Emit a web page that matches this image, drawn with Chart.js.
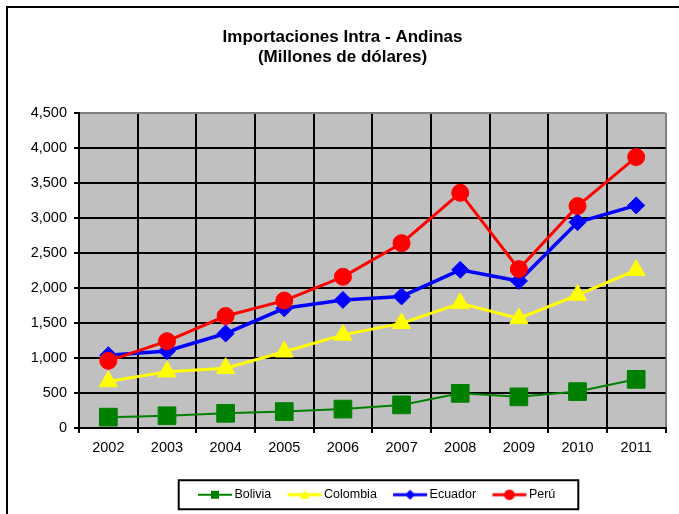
<!DOCTYPE html>
<html><head><meta charset="utf-8">
<script src="https://cdn.jsdelivr.net/npm/chart.js@4"></script>
<style>html,body{margin:0;padding:0;background:#fff;overflow:hidden}canvas{display:block}</style>
</head><body>
<canvas id="c" width="679" height="514"></canvas>
<script>
// ---- data ----
const years = ['2002','2003','2004','2005','2006','2007','2008','2009','2010','2011'];
const bolivia  = [155, 175, 210, 235, 270, 330, 495, 445, 520, 695];
const colombia = [665, 805, 855, 1090, 1330, 1495, 1780, 1565, 1900, 2255];
const ecuador  = [1040, 1100, 1350, 1710, 1830, 1880, 2260, 2100, 2940, 3180];
const peru     = [960, 1240, 1600, 1820, 2160, 2640, 3360, 2270, 3170, 3870];
const yTicks   = [0, 500, 1000, 1500, 2000, 2500, 3000, 3500, 4000, 4500];
const seriesNames = ['Bolivia', 'Colombia', 'Ecuador', 'Perú'];
const titleLines = ['Importaciones Intra - Andinas', '(Millones de dólares)'];

const FONT = "'Liberation Sans', Arial, sans-serif";

function legendIcon(color, lw, marker) {
  const c = document.createElement('canvas');
  c.width = 36; c.height = 14;
  const g = c.getContext('2d');
  g.strokeStyle = color; g.fillStyle = color; g.lineWidth = lw;
  g.beginPath(); g.moveTo(1, 7); g.lineTo(35, 7); g.stroke();
  g.beginPath();
  if (marker === 'rect') { g.rect(14, 3, 8, 8); }
  else if (marker === 'triangle') { g.moveTo(18, 2); g.lineTo(23, 11); g.lineTo(13, 11); g.closePath(); }
  else if (marker === 'rectRot') { g.moveTo(18, 2); g.lineTo(23, 7); g.lineTo(18, 12); g.lineTo(13, 7); g.closePath(); }
  else { g.arc(18, 7, 5.3, 0, Math.PI * 2); }
  g.fill();
  return c;
}

const frame = {
  id: 'frame',
  afterLayout(chart) {
    const lg = chart.legend;
    if (lg) {
      const dx = 45;
      lg.left += dx; lg.right += dx;
      const h = lg.bottom - lg.top;
      lg.top = 468.5; lg.bottom = 468.5 + h;
    }
    const t = chart.titleBlock;
    if (t) { t.left += 9; t.right += 9; }
  },
  beforeDraw(chart) {
    const ctx = chart.ctx, a = chart.chartArea;
    ctx.save();
    ctx.fillStyle = '#ffffff';
    ctx.fillRect(0, 0, chart.width, chart.height);
    ctx.strokeStyle = '#000'; ctx.lineWidth = 2;
    ctx.strokeRect(7, 7, chart.width + 40, chart.height + 40);
    ctx.fillStyle = '#C0C0C0';
    ctx.fillRect(a.left, a.top, a.right - a.left, a.bottom - a.top);
    ctx.restore();
  },
  afterDraw(chart) {
    const lg = chart.legend;
    if (!lg || !lg.legendHitBoxes || !lg.legendHitBoxes.length) return;
    const hb = lg.legendHitBoxes;
    const first = hb[0], last = hb[hb.length - 1];
    const cy = first.top + first.height / 2;
    const ctx = chart.ctx;
    ctx.save();
    ctx.strokeStyle = '#000'; ctx.lineWidth = 2;
    const l = first.left - 23, r = last.left + last.width + 23;
    ctx.strokeRect(l, cy - 14.5, r - l, 29);
    ctx.restore();
  }
};

const icons = [
  legendIcon('#008000', 2, 'rect'),
  legendIcon('#FFFF00', 3, 'triangle'),
  legendIcon('#0000FF', 3, 'rectRot'),
  legendIcon('#FF0000', 3, 'circle')
];

new Chart(document.getElementById('c'), {
  type: 'line',
  data: {
    labels: years,
    datasets: [
      { label: seriesNames[0], data: bolivia, borderColor: '#008000', backgroundColor: '#008000',
        borderWidth: 2, pointStyle: 'rect', pointRadius: 12.5, pointBorderWidth: 1, order: 4 },
      { label: seriesNames[1], data: colombia, borderColor: '#FFFF00', backgroundColor: '#FFFF00',
        borderWidth: 3, pointStyle: 'triangle', pointRadius: 10.5, pointBorderWidth: 1, order: 3 },
      { label: seriesNames[2], data: ecuador, borderColor: '#0000FF', backgroundColor: '#0000FF',
        borderWidth: 3.5, pointStyle: 'rectRot', pointRadius: 8.5, pointBorderWidth: 1, order: 2 },
      { label: seriesNames[3], data: peru, borderColor: '#FF0000', backgroundColor: '#FF0000',
        borderWidth: 3, pointStyle: 'circle', pointRadius: 8.5, pointBorderWidth: 1, order: 1 }
    ]
  },
  options: {
    responsive: false,
    devicePixelRatio: 1,
    animation: false,
    layout: { padding: { left: 0, right: 12, top: 0, bottom: 0 } },
    plugins: {
      tooltip: { enabled: false },
      title: {
        display: true,
        text: titleLines,
        color: '#000',
        font: { family: FONT, size: 17, weight: 'bold', lineHeight: 1.2 },
        padding: { top: 27, bottom: 45.2 }
      },
      legend: {
        position: 'bottom',
        labels: {
          usePointStyle: true,
          pointStyleWidth: 26.5,
          padding: 20,
          color: '#000',
          font: { family: FONT, size: 12.5 },
          generateLabels(chart) {
            return chart.data.datasets.map((ds, i) => ({
              text: ds.label, pointStyle: icons[i], datasetIndex: i,
              fillStyle: ds.borderColor, strokeStyle: ds.borderColor, lineWidth: 0, hidden: false
            }));
          }
        }
      }
    },
    scales: {
      x: {
        offset: true,
        grid: {
          offset: true,
          color: c => c.type === 'tick' ? '#000' : '#808080',
          tickColor: '#000',
          lineWidth: 2,
          tickLength: 5
        },
        border: { color: '#000', width: 2 },
        ticks: { color: '#000', font: { family: FONT, size: 14.5 }, padding: 6, maxRotation: 0 },
        afterFit(scale) {
          const lh = scale.chart.legend ? scale.chart.legend.height : 40;
          scale.height = 514 - lh - 428;
        }
      },
      y: {
        min: yTicks[0],
        max: yTicks[yTicks.length - 1],
        afterBuildTicks(scale) { scale.ticks = yTicks.map(v => ({ value: v })); },
        grid: {
          color: c => (c.tick && c.tick.value === yTicks[yTicks.length - 1]) ? '#808080' : '#000',
          tickColor: '#000',
          lineWidth: 2,
          tickLength: 5
        },
        border: { color: '#000', width: 2 },
        ticks: {
          color: '#000', font: { family: FONT, size: 14.5 }, padding: 7,
          callback: v => v.toLocaleString('en-US')
        },
        afterFit(scale) { scale.width = 79; }
      }
    }
  },
  plugins: [frame]
});
</script>
</body></html>
